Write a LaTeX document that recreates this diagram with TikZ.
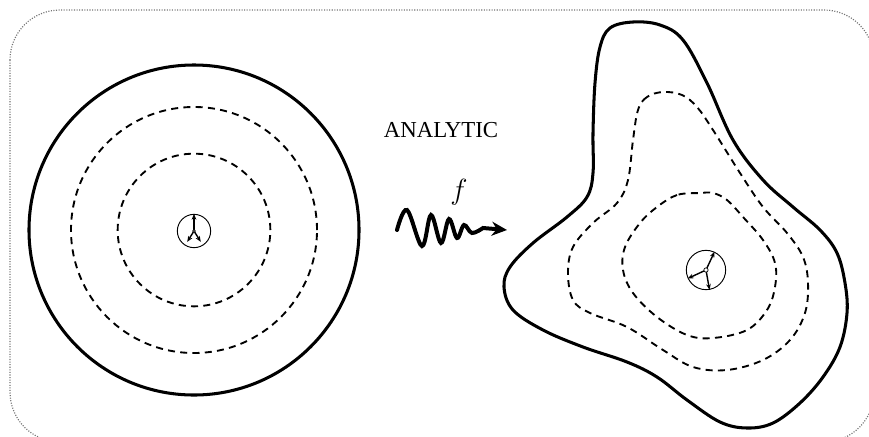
\documentclass[tikz,border=0pt]{standalone}
\usepackage{amsmath,amssymb}
\usepackage{fontspec}
\setmainfont{Liberation Serif}
\usepackage{tikz}
\usetikzlibrary{positioning,arrows.meta}

\begin{document}
\begin{tikzpicture}[x=0.03cm, y=-0.03cm,
  rim/.style={line width=2.6pt, line join=round},
  level/.style={line width=1.6pt, dash pattern=on 6pt off 4.5pt},
  compass/.style={draw, circle, line width=0.8pt, inner sep=0pt},
  hub/.style={draw, circle, fill=white, line width=0.6pt, inner sep=0pt, minimum size=0.13cm},
  needle/.style={-{Stealth[length=5pt, width=4pt]}, line width=1.2pt},
  frame/.style={black!55, line width=1pt, dash pattern=on 0.9pt off 1.3pt, rounded corners=1.5cm}]
\useasboundingbox (0,0) rectangle (869,436);
\draw[frame] (10,10) rectangle (874,442);
% the disc
\draw[rim] (194,230) circle [radius=4.95cm];
\draw[level] (194,230) circle [radius=3.69cm];
\draw[level] (194,230) circle [radius=2.29cm];
\node[compass, minimum size=1cm] (compL) at (194,231) {};
\draw[needle] (compL.center) -- (compL.90);
\draw[needle, shorten >=1.3mm] (compL.center) -- (compL.238);
\draw[needle, shorten >=1.3mm] (compL.center) -- (compL.302);
\node[hub, minimum size=0.08cm] (hubL) at (compL.center) {};
% the map
\node[font=\fontsize{19.5}{22}\selectfont] (analytic) at (441,130) {ANALYTIC};
\node[font=\fontsize{27}{30}\selectfont] (fname) at (459,192) {\(f\)};
\coordinate (waveS) at (397,230);
\coordinate (waveE) at (507,230);
\draw[line width=3.4pt, line cap=round, -{Stealth[length=13pt, width=12pt]}]
  plot[smooth, tension=0.6] coordinates {(waveS) (407,210) (422,246) (431,215) (441,243)
  (449,219) (457,238) (464,225) (472,233) (483,228)} -- (waveE);
% the image domain
\draw[rim] plot[smooth cycle, tension=0.6] coordinates {
  (600,47) (595,83) (593,133) (593,173) (587,197) (567,217) (533,243) (510,267)
  (504,287) (513,310) (543,330) (583,347) (627,362) (657,377) (687,400) (720,422)
  (747,428) (773,423) (800,403) (823,377) (840,347) (847,313) (845,283) (837,253)
  (820,230) (793,207) (763,180) (733,140) (707,83) (683,40) (660,25) (633,22) (610,28)};
\draw[level] plot[smooth cycle, tension=0.6] coordinates {
  (663,92) (647,97) (638,110) (633,140) (628,180) (617,203) (593,223) (573,247)
  (568,273) (573,300) (590,313) (627,327) (663,350) (693,367) (727,370) (763,360)
  (790,340) (805,313) (808,283) (803,257) (787,233) (763,207) (740,173) (713,130)
  (697,107) (682,95)};
\draw[level] plot[smooth cycle, tension=0.6] coordinates {
  (700,193) (677,195) (657,207) (640,223) (625,247) (623,270) (633,293) (657,317)
  (687,335) (713,338) (747,330) (767,310) (775,287) (775,263) (763,240) (743,217)
  (727,200) (713,193)};
\node[compass, minimum size=1.18cm] (compR) at (706,270) {};
\draw[needle] (compR.center) -- (compR.65);
\draw[needle] (compR.center) -- (compR.205);
\draw[needle] (compR.center) -- (compR.280);
\node[hub] (hubR) at (compR.center) {};
\end{tikzpicture}
\end{document}
